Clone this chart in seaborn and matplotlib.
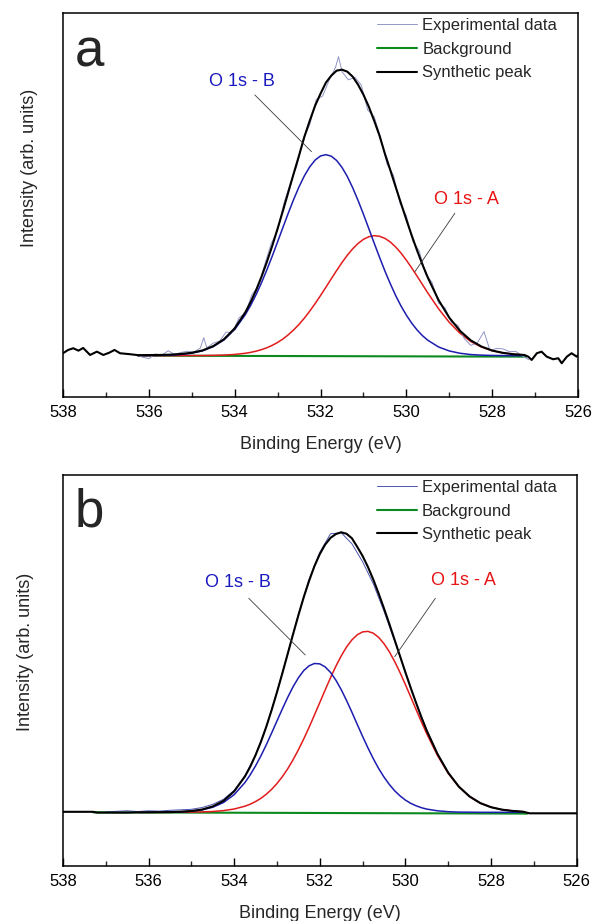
import matplotlib
matplotlib.use('Agg')
import matplotlib.pyplot as plt
from matplotlib.ticker import MultipleLocator
import seaborn as sns

# binding energy grid of the fitted components (eV), denser around the peaks
grid_ev = [536.25, 536.0, 535.75, 535.5, 535.25, 535.0, 534.75, 534.5, 534.25, 534.0,
           533.75, 533.625, 533.5, 533.375, 533.25, 533.125, 533.0, 532.875, 532.75, 532.625,
           532.5, 532.375, 532.25, 532.125, 532.0, 531.875, 531.75, 531.625, 531.5, 531.375,
           531.25, 531.125, 531.0, 530.875, 530.75, 530.625, 530.5, 530.375, 530.25, 530.125,
           530.0, 529.875, 529.75, 529.625, 529.5, 529.25, 529.0, 528.75, 528.5, 528.25,
           528.0, 527.75, 527.5, 527.25]

# ---- panel a ----
a_blue = [0.0, 0.1, 0.2, 0.5, 1.2, 2.4, 4.8, 9.0, 15.7, 26.1,
          41.1, 50.5, 61.1, 72.9, 85.8, 99.5, 113.8, 128.3, 142.6, 156.3,
          168.9, 179.9, 188.9, 195.6, 199.7, 201.0, 199.5, 195.2, 188.3, 179.1,
          167.9, 155.2, 141.5, 127.1, 112.6, 98.4, 84.7, 72.0, 60.2, 49.7,
          40.5, 32.5, 25.7, 20.0, 15.4, 8.7, 4.7, 2.4, 1.1, 0.5,
          0.2, 0.1, 0.0, 0.0]
a_red = [0.0, 0.0, 0.0, 0.0, 0.0, 0.1, 0.1, 0.3, 0.6, 1.2,
         2.4, 3.3, 4.5, 6.0, 7.9, 10.3, 13.2, 16.7, 20.9, 25.8,
         31.3, 37.6, 44.6, 52.1, 60.1, 68.4, 76.8, 85.1, 93.1, 100.4,
         106.9, 112.2, 116.3, 118.9, 120.0, 119.4, 117.3, 113.7, 108.7, 102.6,
         95.5, 87.7, 79.5, 71.1, 62.7, 46.9, 33.3, 22.4, 14.2, 8.6,
         4.9, 2.7, 1.4, 0.7]
a_fit = [0.5, 0.6, 0.7, 1.0, 1.7, 2.9, 5.2, 9.5, 16.4, 27.3,
         43.5, 53.8, 65.6, 78.9, 93.7, 109.8, 127.0, 145.0, 163.5, 182.1,
         200.2, 219.0, 235.0, 250.0, 262.0, 273.0, 280.0, 285.0, 286.0, 284.0,
         279.0, 271.0, 261.0, 249.0, 235.0, 220.0, 202.0, 185.7, 168.9, 152.3,
         136.0, 120.2, 105.2, 91.1, 78.1, 55.6, 38.0, 24.8, 15.3, 9.1,
         5.1, 2.8, 1.4, 0.7]
# raw signal outside the fit window, drawn with the synthetic peak
a_left_ev = [538.0, 537.88, 537.76, 537.64, 537.53, 537.37, 537.21, 537.06, 536.92, 536.8, 536.67, 536.45]
a_left_y = [2.4, 5.7, 7.4, 5.0, 7.7, 0.7, 4.0, 0.7, 3.0, 5.7, 2.4, 1.5]
a_right_ev = [527.16, 527.08, 526.96, 526.85, 526.73, 526.58, 526.46, 526.38, 526.26, 526.15, 526.03, 526.0]
a_right_y = [-1.0, -4.3, 2.4, 4.0, -1.0, -3.6, -2.6, -7.6, -1.0, 2.4, -1.0, 0.5]
a_exp_ev = [536.3, 536.15, 536.0, 535.85, 535.7, 535.55, 535.4, 535.25, 535.1, 534.95,
            534.8, 534.72, 534.65, 534.5, 534.35, 534.2, 534.05, 533.9, 533.75, 533.6,
            533.45, 533.3, 533.15, 533.0, 532.85, 532.7, 532.55, 532.4, 532.25, 532.1,
            531.95, 531.8, 531.65, 531.58, 531.5, 531.35, 531.2, 531.05, 530.9, 530.75,
            530.6, 530.45, 530.3, 530.15, 530.0, 529.85, 529.7, 529.55, 529.4, 529.25,
            529.1, 528.95, 528.8, 528.65, 528.5, 528.35, 528.19, 528.05, 527.9, 527.75,
            527.6, 527.45, 527.3, 527.15]
a_exp = [1.0, -1.5, -3.0, 1.7, 0.3, 4.9, 1.3, 3.2, 4.4, 3.4,
         7.7, 18.0, 7.9, 12.5, 14.6, 23.6, 23.1, 37.8, 42.5, 60.8,
         69.2, 91.1, 112.0, 125.0, 152.9, 172.8, 189.9, 217.1, 231.0, 256.2,
         259.6, 275.4, 288.4, 299.0, 284.0, 275.8, 278.4, 270.6, 245.6, 239.0,
         218.2, 191.4, 180.5, 152.7, 140.0, 114.5, 104.8, 81.5, 73.1, 52.6,
         48.0, 33.4, 30.4, 17.0, 10.3, 12.6, 24.0, 4.9, 7.2, 6.8,
         4.0, 4.3, -0.2, -4.0]
a_bg_ev = [536.25, 527.2]
a_bg = [0.0, -1.0]

# ---- panel b ----
b_blue = [0.0, 0.0, 0.1, 0.2, 0.5, 1.1, 2.4, 5.1, 9.8, 17.7,
          29.7, 37.5, 46.5, 56.5, 67.5, 79.3, 91.4, 103.4, 114.9, 125.5,
          134.5, 141.7, 146.5, 148.8, 148.4, 145.4, 139.9, 132.2, 122.7, 111.8,
          100.1, 87.9, 75.9, 64.4, 53.6, 43.8, 35.2, 27.8, 21.5, 16.4,
          12.2, 9.0, 6.5, 4.6, 3.2, 1.5, 0.6, 0.2, 0.1, 0.0,
          0.0, 0.0, 0.0, 0.0]
b_red = [0.0, 0.0, 0.0, 0.0, 0.1, 0.2, 0.4, 0.8, 1.7, 3.3,
         6.1, 8.1, 10.8, 14.0, 18.1, 23.0, 28.8, 35.6, 43.5, 52.5,
         62.5, 73.4, 85.0, 97.3, 109.8, 122.3, 134.5, 146.0, 156.3, 165.3,
         172.4, 177.5, 180.4, 180.9, 179.1, 174.9, 168.6, 160.5, 150.7, 139.7,
         127.7, 115.3, 102.7, 90.3, 78.4, 56.8, 39.0, 25.4, 15.7, 9.2,
         5.1, 2.7, 1.4, 0.6]
b_fit = [0.0, 0.0, 0.1, 0.2, 0.6, 1.3, 2.8, 5.9, 11.5, 21.0,
         35.8, 45.6, 57.3, 70.5, 85.6, 102.3, 120.2, 139.0, 158.4, 178.0,
         197.0, 215.1, 231.5, 246.1, 258.2, 267.7, 274.4, 278.2, 280.0, 278.5,
         274.0, 265.4, 256.3, 245.3, 232.7, 218.7, 203.8, 188.3, 172.2, 156.1,
         139.9, 124.3, 109.4, 94.9, 81.6, 58.3, 39.6, 25.6, 15.8, 9.2,
         5.1, 2.7, 1.4, 0.6]
b_left_ev = [538.0, 537.3, 537.2, 536.5]
b_left_y = [0.5, 0.5, -0.3, -0.3]
b_right_ev = [527.1, 526.0]
b_right_y = [-1.0, -1.0]
b_exp_ev = [537.0, 536.75, 536.5, 536.25, 536.0, 535.75, 535.5, 535.25, 535.0, 534.75,
            534.5, 534.25, 534.0, 533.75, 533.5, 533.25, 533.0, 532.75, 532.5, 532.25,
            532.0, 531.75, 531.5, 531.25, 531.0, 530.75, 530.5, 530.25, 530.0, 529.75,
            529.5, 529.25, 529.0, 528.75, 528.5, 528.25, 528.0, 527.75, 527.5, 527.25]
b_exp = [0.5, 1.0, 1.5, 0.8, 1.5, 1.2, 2.0, 2.5, 3.0, 4.8,
         8.0, 13.0, 22.0, 36.5, 57.5, 85.5, 120.5, 159.0, 198.0, 233.0,
         260.0, 278.5, 279.5, 268.5, 250.5, 228.5, 201.0, 171.0, 140.5, 109.5,
         82.0, 58.5, 39.8, 25.8, 15.8, 9.0, 5.0, 2.8, 1.3, 0.4]
b_bg_ev = [537.3, 527.15]
b_bg = [0.0, -1.3]

x_ticks = [538, 536, 534, 532, 530, 528, 526]

sns.set_theme(style='ticks')
plt.rcParams['font.family'] = ['Liberation Sans', 'DejaVu Sans']

fig = plt.figure(figsize=(5.92, 9.21), dpi=100)
ax_a = fig.add_axes([0.1064, 0.5690, 0.8700, 0.4166])
ax_b = fig.add_axes([0.1064, 0.0597, 0.8676, 0.4246])


def draw_panel(ax, exp_ev, exp, exp_color, bg_ev, bg, blue, red, fit_ev, fit, ylim):
    sns.lineplot(x=bg_ev, y=bg, ax=ax, color='#0b8a1f', lw=1.5, label='Background', sort=False)
    sns.lineplot(x=grid_ev, y=red, ax=ax, color='#e21c1c', lw=1.1, sort=False)
    sns.lineplot(x=grid_ev, y=blue, ax=ax, color='#1d1daf', lw=1.1, sort=False)
    sns.lineplot(x=exp_ev, y=exp, ax=ax, color=exp_color, lw=0.7, label='Experimental data', sort=False)
    sns.lineplot(x=fit_ev, y=fit, ax=ax, color='black', lw=1.5, label='Synthetic peak', sort=False)

    ax.set_xlim(538, 526)
    ax.set_ylim(*ylim)
    ax.set_xticks(x_ticks)
    ax.xaxis.set_minor_locator(MultipleLocator(1))
    ax.set_yticks([])
    ax.tick_params(axis='x', which='major', direction='in', length=6, width=1,
                   labelsize=12, pad=6, colors='black')
    ax.tick_params(axis='x', which='minor', direction='in', length=3.5, width=1)
    for sp in ax.spines.values():
        sp.set_linewidth(1.1)
        sp.set_color('black')

    h, l = ax.get_legend_handles_labels()
    order = ['Experimental data', 'Background', 'Synthetic peak']
    hh = [h[l.index(k)] for k in order]
    ax.legend(hh, order, loc='upper left', bbox_to_anchor=(0.604, 0.996), frameon=False,
              fontsize=12, handlelength=2.4, handletextpad=0.3, labelspacing=0.52,
              borderpad=0.2, borderaxespad=0)

    ax.set_xlabel('Binding Energy (eV)', fontsize=13, labelpad=11)
    ax.set_ylabel('Intensity (arb. units)', fontsize=13)


draw_panel(ax_a, a_exp_ev, a_exp, '#9196c6', a_bg_ev, a_bg, a_blue, a_red,
           a_left_ev + grid_ev + a_right_ev, a_left_y + a_fit + a_right_y, (-41.3, 342.4))
draw_panel(ax_b, b_exp_ev, b_exp, '#4a55b0', b_bg_ev, b_bg, b_blue, b_red,
           b_left_ev + grid_ev + b_right_ev, b_left_y + b_fit + b_right_y, (-53.7, 337.3))

ax_a.yaxis.set_label_coords(-0.049, 0.596)
ax_b.yaxis.set_label_coords(-0.057, 0.548)

ax_a.text(0.052, 0.898, 'a', transform=ax_a.transAxes, fontsize=38, ha='center', va='center')
ax_b.text(0.052, 0.905, 'b', transform=ax_b.transAxes, fontsize=38, ha='center', va='center')

leader = dict(arrowstyle='-', color='#3a3a3a', lw=0.6, shrinkA=0, shrinkB=0)

ax_a.text(533.82, 273.7, 'O 1s - B', color='#1a1ac0', fontsize=13, ha='center', va='center')
ax_a.annotate('', xy=(532.21, 204.0), xytext=(533.53, 260.7), arrowprops=leader)
ax_a.text(528.61, 155.7, 'O 1s - A', color='#e81414', fontsize=13, ha='center', va='center')
ax_a.annotate('', xy=(529.80, 84.0), xytext=(528.87, 142.4), arrowprops=leader)

ax_b.text(533.92, 229.6, 'O 1s - B', color='#1a1ac0', fontsize=13, ha='center', va='center')
ax_b.annotate('', xy=(532.34, 157.3), xytext=(533.66, 214.0), arrowprops=leader)
ax_b.text(528.65, 231.6, 'O 1s - A', color='#e81414', fontsize=13, ha='center', va='center')
ax_b.annotate('', xy=(530.25, 155.6), xytext=(529.30, 214.0), arrowprops=leader)

fig.savefig('out.png', dpi=100)
